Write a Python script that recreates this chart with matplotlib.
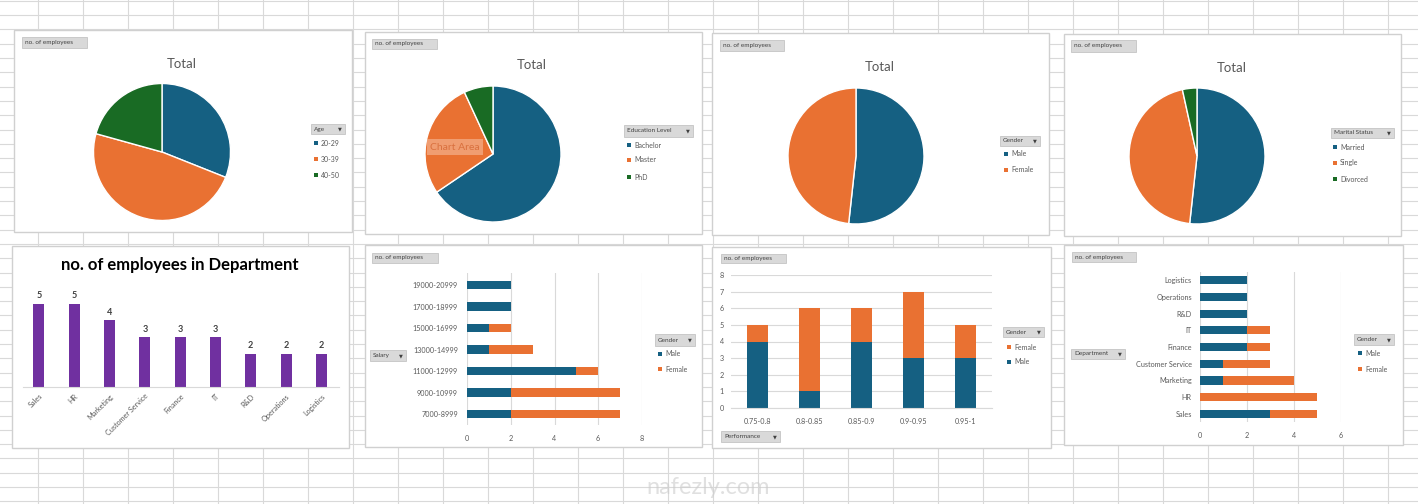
import numpy as np
import matplotlib
matplotlib.use("Agg")
import matplotlib.pyplot as plt
from matplotlib.patches import Rectangle

plt.rcParams['font.family'] = ['Lato', 'DejaVu Sans']

# data
age_labels = ['20-29', '30-39', '40-50']
age_counts = [9, 14, 6]
edu_labels = ['Bachelor', 'Master', 'PhD']
edu_counts = [19, 8, 2]
gender_labels = ['Male', 'Female']
gender_counts = [15, 14]
marital_labels = ['Married', 'Single', 'Divorced']
marital_counts = [15, 13, 1]

dept_labels = ['Sales', 'HR', 'Marketing', 'Customer Service', 'Finance', 'IT', 'R&D', 'Operations', 'Logistics']
dept_counts = [5, 5, 4, 3, 3, 3, 2, 2, 2]
dept_male = [3, 0, 1, 1, 2, 2, 2, 2, 2]
dept_female = [2, 5, 3, 2, 1, 1, 0, 0, 0]

salary_labels = ['7000-8999', '9000-10999', '11000-12999', '13000-14999', '15000-16999', '17000-18999', '19000-20999']
salary_male = [2, 2, 5, 1, 1, 2, 2]
salary_female = [5, 5, 1, 2, 1, 0, 0]

perf_labels = ['0.75-0.8', '0.8-0.85', '0.85-0.9', '0.9-0.95', '0.95-1']
perf_male = [4, 1, 4, 3, 3]
perf_female = [1, 5, 2, 4, 2]

BLUE = '#156082'
ORANGE = '#E97132'
GREEN = '#196B24'
PURPLE = '#7030A0'
TXT = '#595959'
GRID = '#d9d9d9'

W, H = 1418, 504
fig = plt.figure(figsize=(W / 100, H / 100), dpi=100)

# sheet background in pixel coords
bg = fig.add_axes([0, 0, 1, 1])
bg.set_xlim(0, W)
bg.set_ylim(H, 0)
bg.axis('off')
for x in np.arange(38, W, 45):
    bg.axvline(x, color=GRID, lw=0.8, zorder=0)
for y in np.arange(0.8, H, 14.3):
    bg.axhline(y, color=GRID, lw=0.8, zorder=0)


def fax(x0, y0, x1, y1):
    ax = fig.add_axes([x0 / W, 1 - y1 / H, (x1 - x0) / W, (y1 - y0) / H])
    ax.patch.set_alpha(0)
    return ax


def panel(x0, y0, x1, y1):
    bg.add_patch(Rectangle((x0, y0), x1 - x0, y1 - y0, fc='white', ec='#d0d0d0', lw=1, zorder=1))


def button(x0, y0, x1, y1, text, arrow=False):
    bg.add_patch(Rectangle((x0, y0), x1 - x0, y1 - y0, fc='#d9d9d9', ec='#c4c4c4', lw=0.6, zorder=3))
    ym = (y0 + y1) / 2
    bg.text(x0 + 3, ym, text, fontsize=4.6, color='#404040', ha='left', va='center', zorder=4)
    if arrow:
        bg.text(x1 - 3, ym, '▼', fontsize=3.6, color='#404040', ha='right', va='center', zorder=4)


def legend(x, ys, labels, colors):
    for y, lab, c in zip(ys, labels, colors):
        bg.add_patch(Rectangle((x - 1.8, y - 1.8), 3.6, 3.6, fc=c, ec='none', zorder=4))
        bg.text(x + 5, y, lab, fontsize=5, color=TXT, ha='left', va='center', zorder=4)


def pie(cx, cy, r, counts, colors):
    m = 1.04
    ax = fax(cx - r * m, cy - r * m, cx + r * m, cy + r * m)
    ax.pie(counts, colors=colors, startangle=90, counterclock=False,
           wedgeprops=dict(edgecolor='white', linewidth=1))
    ax.set_xlim(-m, m)
    ax.set_ylim(-m, m)
    ax.set_aspect('equal')
    return ax


def style_axis(ax, gridaxis):
    for s in ax.spines.values():
        s.set_visible(False)
    ax.grid(axis=gridaxis, color=GRID, lw=0.8)
    ax.set_axisbelow(True)
    ax.tick_params(length=0, labelsize=5.2, labelcolor=TXT)


# ---- top row: pies ----
panel(14, 30, 352, 232)
panel(365, 32, 702, 234)
panel(712, 33, 1049, 235)
panel(1064, 34, 1401, 236)

button(22, 37, 87, 48, 'no. of employees')
button(372, 39, 437, 49, 'no. of employees')
button(720, 40, 784, 51, 'no. of employees')
button(1071, 40, 1136, 52, 'no. of employees')

for tx, ty in [(182, 64), (532, 65), (880, 67), (1232, 68)]:
    bg.text(tx, ty, 'Total', fontsize=9.5, color=TXT, ha='center', va='center', zorder=4)

pie(162, 152, 68.5, age_counts, [BLUE, ORANGE, GREEN])
pie(493, 154, 68, edu_counts, [BLUE, ORANGE, GREEN])
pie(856, 156, 68, gender_counts, [BLUE, ORANGE])
pie(1197, 156, 68, marital_counts, [BLUE, ORANGE, GREEN])

button(311, 124, 345, 134, 'Age', arrow=True)
legend(316, [143, 159, 175], age_labels, [BLUE, ORANGE, GREEN])
button(624, 125, 693, 137, 'Education Level', arrow=True)
legend(629, [145, 160, 177], edu_labels, [BLUE, ORANGE, GREEN])
button(1000, 136, 1040, 146, 'Gender', arrow=True)
legend(1006, [154, 170], gender_labels, [BLUE, ORANGE])
button(1331, 128, 1394, 138, 'Marital Status', arrow=True)
legend(1335, [147, 163, 179], marital_labels, [BLUE, ORANGE, GREEN])

# hover tooltip visible in the screenshot
fig.text(455 / W, 1 - 147 / H, 'Chart Area', fontsize=7.5, color='#d9703e', ha='center', va='center',
         bbox=dict(boxstyle='square,pad=0.3', fc='#f6c3a6', ec='none', alpha=0.55))

# ---- bottom row ----
panel(12, 246, 349, 448)
panel(365, 245, 702, 447)
panel(712, 247, 1051, 448)
panel(1064, 245, 1403, 445)

# department counts
bg.text(180, 265, 'no. of employees in Department', fontsize=12, fontweight='bold',
        color='black', ha='center', va='center', zorder=4)
ax5 = fax(23, 287, 339, 387)
xs = np.arange(len(dept_labels))
bars = ax5.bar(xs, dept_counts, width=0.31, color=PURPLE)
ax5.bar_label(bars, padding=2.5, fontsize=6.5, fontweight='bold', color='#404040')
ax5.set_xlim(-0.45, 8.5)
ax5.set_ylim(0, 6)
for s in ['top', 'right', 'left']:
    ax5.spines[s].set_visible(False)
ax5.spines['bottom'].set_color(GRID)
ax5.set_yticks([])
ax5.set_xticks(xs)
ax5.set_xticklabels(dept_labels, rotation=45, ha='right', rotation_mode='anchor')
ax5.tick_params(axis='x', length=0, labelsize=5.2, labelcolor=TXT, pad=4)

# salary by gender
button(372, 253, 438, 263, 'no. of employees')
ax6 = fax(467, 273, 642, 425)
ys = np.arange(len(salary_labels))
ax6.barh(ys, salary_male, height=0.4, color=BLUE)
ax6.barh(ys, salary_female, left=salary_male, height=0.4, color=ORANGE)
ax6.set_xlim(0, 8)
ax6.set_ylim(-0.51, 6.56)
ax6.set_xticks([0, 2, 4, 6, 8])
ax6.set_yticks(ys)
ax6.set_yticklabels(salary_labels)
style_axis(ax6, 'x')
ax6.tick_params(axis='x', pad=7)
ax6.tick_params(axis='y', pad=6.5)
button(370, 350, 406, 361, 'Salary', arrow=True)
button(655, 334, 695, 346, 'Gender', arrow=True)
legend(660, [354, 369], gender_labels, [BLUE, ORANGE])

# performance by gender
button(721, 254, 786, 263, 'no. of employees')
ax7 = fax(731, 275, 992, 408)
xs = np.arange(len(perf_labels))
ax7.bar(xs, perf_male, width=0.4, color=BLUE)
ax7.bar(xs, perf_female, bottom=perf_male, width=0.4, color=ORANGE)
ax7.set_xlim(-0.5, 4.5)
ax7.set_ylim(0, 8)
ax7.set_yticks(range(0, 9))
ax7.set_xticks(xs)
ax7.set_xticklabels(perf_labels)
style_axis(ax7, 'y')
ax7.spines['bottom'].set_visible(True)
ax7.spines['bottom'].set_color(GRID)
ax7.tick_params(axis='x', pad=7)
ax7.tick_params(axis='y', pad=5)
button(721, 431, 780, 442, 'Performance', arrow=True)
button(1003, 327, 1044, 337, 'Gender', arrow=True)
legend(1009, [347, 362], ['Female', 'Male'], [ORANGE, BLUE])

# department by gender
button(1072, 252, 1136, 262, 'no. of employees')
ax8 = fax(1199.5, 272, 1341, 422)
ys = np.arange(len(dept_labels))
ax8.barh(ys, dept_male, height=0.48, color=BLUE)
ax8.barh(ys, dept_female, left=dept_male, height=0.48, color=ORANGE)
ax8.set_xlim(0, 6)
ax8.set_ylim(-0.48, 8.48)
ax8.set_xticks([0, 2, 4, 6])
ax8.set_yticks(ys)
ax8.set_yticklabels(dept_labels)
style_axis(ax8, 'x')
ax8.tick_params(axis='x', pad=7)
ax8.tick_params(axis='y', pad=5.5)
button(1071, 349, 1125, 359, 'Department', arrow=True)
button(1354, 334, 1394, 345, 'Gender', arrow=True)
legend(1360, [353, 369], gender_labels, [BLUE, ORANGE])

# watermark
fig.text(708 / W, 1 - 488 / H, 'nafezly.com', fontsize=17, color='#cccccc', alpha=0.6,
         ha='center', va='center')

fig.savefig('out.png', dpi=100)
